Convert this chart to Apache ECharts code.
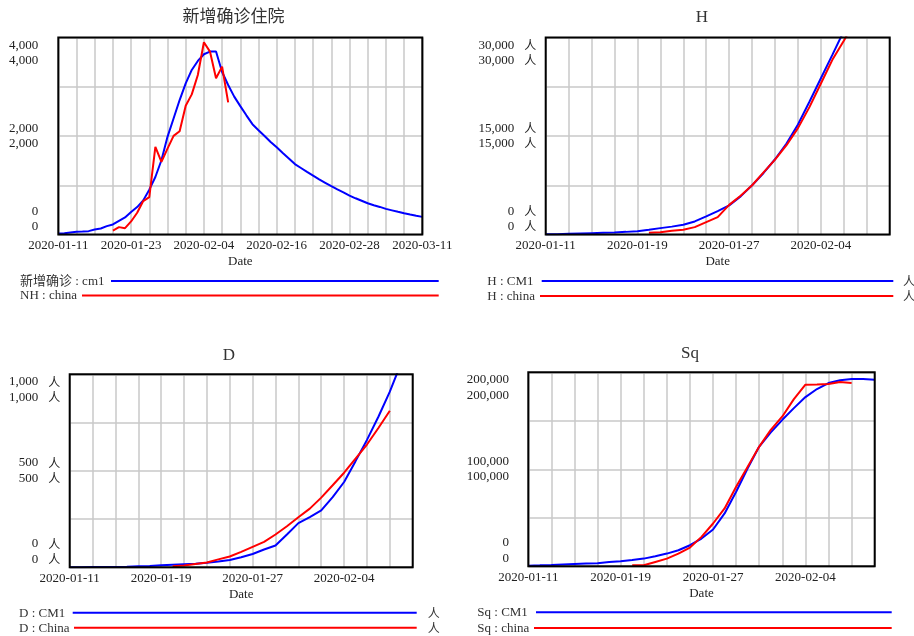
<!DOCTYPE html>
<html><head><meta charset="utf-8">
<script src="https://cdn.jsdelivr.net/npm/echarts@6/dist/echarts.min.js"></script>
<style>html,body{margin:0;padding:0;background:#fff}#c{width:914px;height:636px}</style>
</head><body><div id="c"></div>
<script>
// ---------- categories (daily dates) ----------
function dayLabels(y, m, d, n) {
  const out = [];
  for (let i = 0; i < n; i++) {
    const t = new Date(Date.UTC(y, m - 1, d + i));
    out.push(t.toISOString().slice(0, 10));
  }
  return out;
}
const datesLong = dayLabels(2020, 1, 11, 61);   // 2020-01-11 .. 2020-03-11
const datesShort = dayLabels(2020, 1, 11, 31);  // 2020-01-11 .. 2020-02-10

// ---------- titles / legend labels ----------
const titles = ['新增确诊住院', 'H', 'D', 'Sq'];
const legendNames = [
  ['新增确诊 : cm1', 'NH : china'],
  ['H : CM1', 'H : china'],
  ['D : CM1', 'D : China'],
  ['Sq : CM1', 'Sq : china']
];
const yMax = [4000, 30000, 1000, 200000];
const yUnits = ['', '人', '人', ''];

// ---------- series values ----------
const nhCm1 = [20,27,41,54,60,68,102,122,170,204,278,346,455,557,693,910,1168,1507,1983,2356,
  2730,3069,3341,3524,3660,3714,3714,3300,3035,2800,2607,2420,2240,2118,2000,1880,1770,1655,1545,1430,
  1350,1270,1195,1120,1050,980,915,855,790,735,685,635,595,560,520,490,460,432,405,380,358];
const nhChina = [null,null,null,null,null,null,null,null,null,
  81,150,129,265,441,679,760,1779,1473,1745,2003,2098,2614,2845,3239,3904,3714,3171,3409,2682];

const hCm1 = [20,50,100,150,200,250,300,400,510,720,970,1200,1480,1990,2750,3565,4430,5806,7487,9371,
  11459,13853,16756,20220,23785,27350,31000,34700,38500,42400,46500];
const hChina = [null,null,null,null,null,null,null,null,null,
  255,356,560,713,1120,1884,2648,4515,5900,7500,9450,11400,13600,16200,19400,23000,26600,29500,32600];

const dCm1 = [0,0,1,1,2,3,5,7,10,13,16,19,23,30,38,52,69,92,113,170,229,260,295,364,442,550,660,780,910,1060,1240];
const dChina = [null,null,null,null,null,null,null,null,null,
  6,9,17,25,41,56,80,106,132,170,213,259,304,361,425,490,563,636,722,811];

const sqCm1 = [690,1000,1380,1900,2400,2800,3100,4480,5170,6500,7930,10340,13100,16550,21720,28620,37930,54480,76890,101030,
  123440,138000,151020,163090,174470,182740,188950,191710,193090,193090,192400];
const sqChina = [null,null,null,null,null,null,null,null,null,
  1030,1030,4480,7930,13100,19300,30340,44130,59650,82060,102750,123440,140680,154470,172400,187230,187500,188000,190000,189000];

// ---------- layout ----------
const FONT = '"Liberation Serif", "Noto Sans CJK SC", serif';
const BLUE = '#0000ff', RED = '#ff0000';
const grids = [
  {left: 58.3, top: 37.5, width: 364, height: 197},
  {left: 545.7, top: 37.5, width: 344, height: 197},
  {left: 69.7, top: 374.3, width: 343, height: 193},
  {left: 528.3, top: 372.3, width: 346.4, height: 194}
];
const yMargins = [20, 9.5, 9.5, 19.3];

function fmt(v) { return v.toLocaleString('en-US'); }

function yAxisCfg(i) {
  const max = yMax[i], unit = yUnits[i];
  return {
    type: 'value', gridIndex: i, min: 0, max: max, interval: max / 4,
    axisLine: {show: false}, axisTick: {show: false},
    splitLine: {show: true, lineStyle: {color: '#c8c8c8', width: 1.5}},
    axisLabel: {
      margin: yMargins[i], fontFamily: FONT, fontSize: 13, color: '#222',
      showMinLabel: true, showMaxLabel: true,
      verticalAlignMaxLabel: 'top', verticalAlignMinLabel: 'bottom',
      formatter: function (v) {
        if (v === 0 || v === max / 2 || v === max) {
          const line = '{n|' + fmt(v) + '}' + (unit ? '{u|' + unit + '}' : '');
          return line + '\n' + line;
        }
        return '';
      },
      rich: {
        n: {fontFamily: FONT, fontSize: 13, lineHeight: 15.5, color: '#222'},
        u: {fontFamily: '"Noto Sans CJK SC", sans-serif', fontSize: 12, lineHeight: 15.5, color: '#222', padding: [0, 0, 0, 10]}
      }
    }
  };
}

function xAxisCfg(i, data, splitInt, labelInt) {
  return {
    type: 'category', gridIndex: i, data: data, boundaryGap: false,
    axisLine: {show: false}, axisTick: {show: false},
    axisLabel: {interval: labelInt, margin: 5, fontFamily: FONT, fontSize: 13, color: '#222', hideOverlap: false},
    splitLine: {show: true, interval: splitInt, lineStyle: {color: '#c8c8c8', width: 1.5}},
    name: 'Date', nameLocation: 'middle', nameGap: 21,
    nameTextStyle: {fontFamily: FONT, fontSize: 13, color: '#222'}
  };
}

function lineSeries(i, data, color, name) {
  return {
    type: 'line', name: name, xAxisIndex: i, yAxisIndex: i, data: data,
    showSymbol: false, symbol: 'none', smooth: false, clip: true,
    lineStyle: {color: color, width: 2}, itemStyle: {color: color},
    connectNulls: false, animation: false, z: 3
  };
}

// title centres
const titlePos = [[233.5, 9], [702, 9], [229, 347], [690, 345]];

// legend geometry: [textX, textY, lineX1, lineX2, unitX]
const legendRows = [
  [[20, 281.5, 111, 438.7, null], [20, 296, 82, 438.7, null]],
  [[487.3, 281.5, 541.7, 893.3, 903], [487.3, 296.5, 540, 893.3, 903]],
  [[19, 613.3, 72.7, 416.7, 427.7], [19, 628.3, 74, 416.7, 427.7]],
  [[477.3, 612.7, 536, 891.7, null], [477.3, 628.5, 534, 891.7, null]]
];

const graphic = [];
legendRows.forEach(function (rows, gi) {
  rows.forEach(function (r, ri) {
    const color = ri === 0 ? BLUE : RED;
    graphic.push({type: 'text', style: {x: r[0], y: r[1], text: legendNames[gi][ri], fill: '#333',
      font: '13px ' + FONT, verticalAlign: 'middle', align: 'left'}});
    graphic.push({type: 'line', shape: {x1: r[2], y1: r[1] - 0.5, x2: r[3], y2: r[1] - 0.5},
      style: {stroke: color, lineWidth: 2}});
    if (r[4] !== null) {
      graphic.push({type: 'text', style: {x: r[4], y: r[1], text: '人', fill: '#333',
        font: '12px "Noto Sans CJK SC", sans-serif', verticalAlign: 'middle', align: 'left'}});
    }
  });
});

const chart = echarts.init(document.getElementById('c'), null, {renderer: 'canvas'});
chart.setOption({
  animation: false,
  backgroundColor: '#fff',
  title: titles.map(function (t, i) {
    return {text: t, left: titlePos[i][0], top: titlePos[i][1], textAlign: 'center', padding: 0,
      textStyle: {fontFamily: FONT, fontSize: 17, fontWeight: 'normal', color: '#333'}};
  }),
  grid: grids.map(function (g) {
    return Object.assign({show: true, z: 5, borderColor: '#000', borderWidth: 2, backgroundColor: 'transparent', containLabel: false}, g);
  }),
  xAxis: [
    xAxisCfg(0, datesLong, 2, 11),
    xAxisCfg(1, datesShort, 1, 7),
    xAxisCfg(2, datesShort, 1, 7),
    xAxisCfg(3, datesShort, 1, 7)
  ],
  yAxis: [yAxisCfg(0), yAxisCfg(1), yAxisCfg(2), yAxisCfg(3)],
  series: [
    lineSeries(0, nhCm1, BLUE, legendNames[0][0]),
    lineSeries(0, nhChina, RED, legendNames[0][1]),
    lineSeries(1, hCm1, BLUE, legendNames[1][0]),
    lineSeries(1, hChina, RED, legendNames[1][1]),
    lineSeries(2, dCm1, BLUE, legendNames[2][0]),
    lineSeries(2, dChina, RED, legendNames[2][1]),
    lineSeries(3, sqCm1, BLUE, legendNames[3][0]),
    lineSeries(3, sqChina, RED, legendNames[3][1])
  ],
  graphic: graphic
});
</script>
</body></html>
